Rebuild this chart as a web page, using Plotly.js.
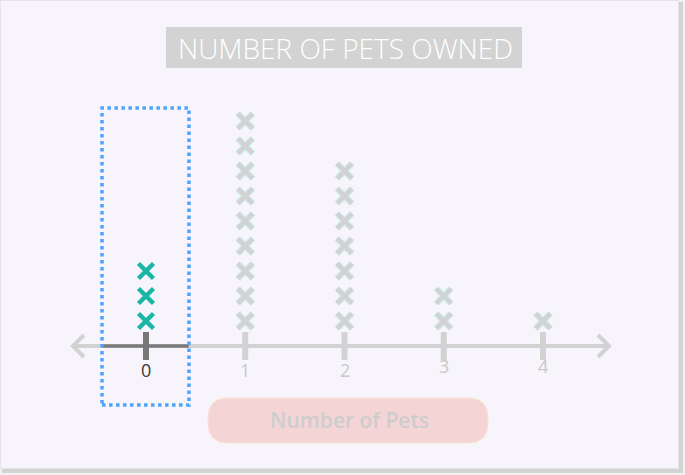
<!DOCTYPE html>
<html><head><meta charset="utf-8">
<script src="https://cdn.plot.ly/plotly-3.0.1.min.js"></script>
<style>html,body{margin:0;padding:0;background:#f0eef3;}#chart{width:685px;height:475px;}</style>
</head><body><div id="chart"></div>
<script>
const categories = [0, 1, 2, 3, 4];
const counts = [3, 9, 7, 2, 1];
const tickLabels = ['0', '1', '2', '3', '4'];
const highlighted = 0;
const chartTitle = 'NUMBER OF PETS OWNED';
const axisTitle = 'Number of Pets';

const W = 685, H = 475;
const PX = p => p / W, PY = p => 1 - p / H;

const hx = [], hy = [], gx = [], gy = [];
categories.forEach((c, i) => {
  for (let k = 1; k <= counts[i]; k++) {
    if (c === highlighted) { hx.push(c); hy.push(k); } else { gx.push(c); gy.push(k); }
  }
});

const traces = [
  {x: gx, y: gy, mode: 'markers', type: 'scatter', hoverinfo: 'skip',
   marker: {symbol: 'x-thin', size: 15, color: '#c9efee', line: {color: '#c9efee', width: 6.5}}},
  {x: gx, y: gy, mode: 'markers', type: 'scatter', hoverinfo: 'skip',
   marker: {symbol: 'x-thin', size: 15, color: '#d2d2d2', line: {color: '#d2d2d2', width: 4.5}}},
  {x: hx, y: hy, mode: 'markers', type: 'scatter', hoverinfo: 'skip',
   marker: {symbol: 'x-thin', size: 15, color: '#19b6a8', line: {color: '#19b6a8', width: 4.5}}},
  {x: categories, y: categories.map(() => 0), mode: 'markers', type: 'scatter', hoverinfo: 'skip',
   marker: {symbol: 'line-ns', size: 20,
            color: categories.map(c => c === highlighted ? '#777777' : '#d2d2d2'),
            line: {width: 6, color: categories.map(c => c === highlighted ? '#777777' : '#d2d2d2')}}}
];

function roundRect(x0, y0, x1, y1, r) {
  return `M ${PX(x0 + r)} ${PY(y0)} L ${PX(x1 - r)} ${PY(y0)} Q ${PX(x1)} ${PY(y0)} ${PX(x1)} ${PY(y0 + r)} ` +
         `L ${PX(x1)} ${PY(y1 - r)} Q ${PX(x1)} ${PY(y1)} ${PX(x1 - r)} ${PY(y1)} ` +
         `L ${PX(x0 + r)} ${PY(y1)} Q ${PX(x0)} ${PY(y1)} ${PX(x0)} ${PY(y1 - r)} ` +
         `L ${PX(x0)} ${PY(y0 + r)} Q ${PX(x0)} ${PY(y0)} ${PX(x0 + r)} ${PY(y0)} Z`;
}

const shapes = [
  {type: 'rect', xref: 'paper', yref: 'paper', x0: PX(2), x1: PX(683), y0: PY(2), y1: PY(473),
   fillcolor: '#d3d3d3', line: {width: 0}, layer: 'below'},
  {type: 'rect', xref: 'paper', yref: 'paper', x0: PX(0.5), x1: PX(678.5), y0: PY(0.5), y1: PY(468.5),
   fillcolor: '#f7f4fb', line: {width: 1, color: '#e6e3ea'}, layer: 'below'},
  {type: 'rect', xref: 'paper', yref: 'paper', x0: PX(166), x1: PX(522), y0: PY(27), y1: PY(68),
   fillcolor: '#d3d3d3', line: {width: 0}, layer: 'below'},
  {type: 'path', xref: 'paper', yref: 'paper', path: roundRect(208, 398, 488, 443, 20),
   fillcolor: '#f5d4d6', line: {width: 1, color: '#fae3cf'}, layer: 'below'},
  {type: 'line', xref: 'x', yref: 'y', x0: -0.745, x1: 4.66, y0: 0, y1: 0,
   line: {color: '#d2d2d2', width: 4}, layer: 'below'},
  {type: 'line', xref: 'x', yref: 'y', x0: -0.44, x1: 0.43, y0: 0, y1: 0,
   line: {color: '#7a7a7a', width: 3.5}, layer: 'below'},
  {type: 'path', xref: 'paper', yref: 'paper',
   path: `M ${PX(84)} ${PY(335)} L ${PX(73)} ${PY(346)} L ${PX(84)} ${PY(357)}`,
   line: {color: '#d2d2d2', width: 4}, layer: 'below'},
  {type: 'path', xref: 'paper', yref: 'paper',
   path: `M ${PX(598)} ${PY(335)} L ${PX(609)} ${PY(346)} L ${PX(598)} ${PY(357)}`,
   line: {color: '#d2d2d2', width: 4}, layer: 'below'},
  {type: 'rect', xref: 'x', yref: 'y', x0: -0.443, x1: 0.433, y0: -2.36, y1: 9.52,
   line: {color: '#4ea4fb', width: 3.5, dash: 'dot'}, fillcolor: 'rgba(0,0,0,0)'}
];

const annotations = categories.map((c, i) => ({
  x: c, y: 0, xref: 'x', yref: 'y', yshift: (c >= 3 ? -20 : -24), showarrow: false,
  xanchor: 'center', yanchor: 'middle',
  text: tickLabels[i],
  font: {family: 'Open Sans, sans-serif', size: 18, color: c === highlighted ? '#3a3a3a' : '#c8c8c8'}
}));
annotations.push({
  x: PX(345), y: PY(48), xref: 'paper', yref: 'paper', showarrow: false, text: chartTitle,
  xanchor: 'center', yanchor: 'middle',
  font: {family: 'Open Sans, sans-serif', size: 28, color: '#ffffff', weight: 300}
});
annotations.push({
  x: PX(349), y: PY(420), xref: 'paper', yref: 'paper', showarrow: false, text: axisTitle,
  xanchor: 'center', yanchor: 'middle',
  font: {family: 'Open Sans, sans-serif', size: 21, color: '#cdcdcd', weight: 600}
});

const layout = {
  width: W, height: H,
  margin: {l: 0, r: 0, t: 0, b: 0},
  paper_bgcolor: '#f2f0f4', plot_bgcolor: 'rgba(0,0,0,0)',
  showlegend: false,
  xaxis: {range: [-146 / 99.25, -146 / 99.25 + W / 99.25], visible: false, fixedrange: true},
  yaxis: {range: [346 / 25 - H / 25, 346 / 25], visible: false, fixedrange: true},
  shapes: shapes, annotations: annotations
};

Plotly.newPlot('chart', traces, layout, {displayModeBar: false, staticPlot: true});
</script></body></html>
